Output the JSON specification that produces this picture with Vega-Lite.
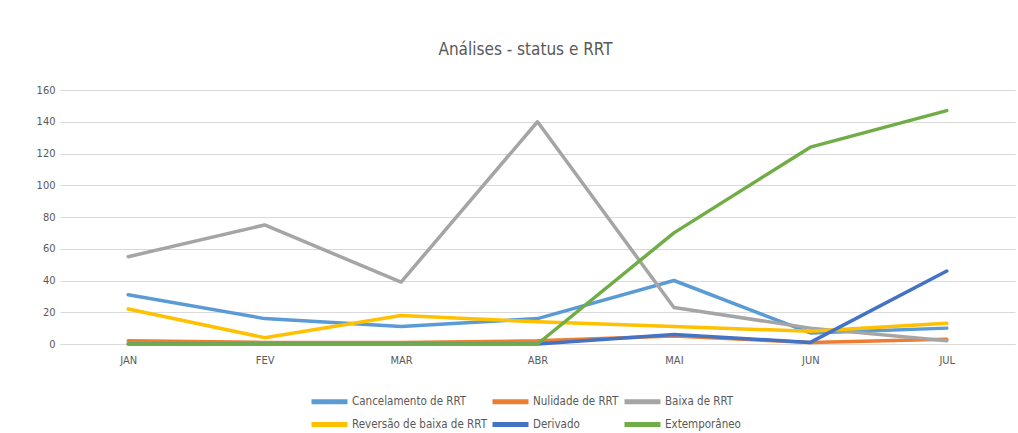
{
  "$schema": "https://vega.github.io/schema/vega-lite/v6.json",
  "width": 955,
  "height": 254,
  "autosize": {"type": "none"},
  "padding": {"left": 60, "top": 90, "right": 3, "bottom": 89},
  "background": "white",
  "title": {
    "text": "Análises - status e RRT",
    "fontSize": 17,
    "font": "DejaVu Sans Condensed, Liberation Sans, sans-serif",
    "fontWeight": "normal",
    "color": "#595959",
    "offset": 25,
    "dx": -12
  },
  "data": {
    "values": [
      {"mes": "JAN", "serie": "Cancelamento de RRT", "valor": 31},
      {"mes": "FEV", "serie": "Cancelamento de RRT", "valor": 16},
      {"mes": "MAR", "serie": "Cancelamento de RRT", "valor": 11},
      {"mes": "ABR", "serie": "Cancelamento de RRT", "valor": 16},
      {"mes": "MAI", "serie": "Cancelamento de RRT", "valor": 40},
      {"mes": "JUN", "serie": "Cancelamento de RRT", "valor": 7},
      {"mes": "JUL", "serie": "Cancelamento de RRT", "valor": 10},
      {"mes": "JAN", "serie": "Nulidade de RRT", "valor": 2},
      {"mes": "FEV", "serie": "Nulidade de RRT", "valor": 1},
      {"mes": "MAR", "serie": "Nulidade de RRT", "valor": 1},
      {"mes": "ABR", "serie": "Nulidade de RRT", "valor": 2},
      {"mes": "MAI", "serie": "Nulidade de RRT", "valor": 5},
      {"mes": "JUN", "serie": "Nulidade de RRT", "valor": 1},
      {"mes": "JUL", "serie": "Nulidade de RRT", "valor": 3},
      {"mes": "JAN", "serie": "Baixa de RRT", "valor": 55},
      {"mes": "FEV", "serie": "Baixa de RRT", "valor": 75},
      {"mes": "MAR", "serie": "Baixa de RRT", "valor": 39},
      {"mes": "ABR", "serie": "Baixa de RRT", "valor": 140},
      {"mes": "MAI", "serie": "Baixa de RRT", "valor": 23},
      {"mes": "JUN", "serie": "Baixa de RRT", "valor": 10},
      {"mes": "JUL", "serie": "Baixa de RRT", "valor": 2},
      {"mes": "JAN", "serie": "Reversão de baixa de RRT", "valor": 22},
      {"mes": "FEV", "serie": "Reversão de baixa de RRT", "valor": 4},
      {"mes": "MAR", "serie": "Reversão de baixa de RRT", "valor": 18},
      {"mes": "ABR", "serie": "Reversão de baixa de RRT", "valor": 14},
      {"mes": "MAI", "serie": "Reversão de baixa de RRT", "valor": 11},
      {"mes": "JUN", "serie": "Reversão de baixa de RRT", "valor": 8},
      {"mes": "JUL", "serie": "Reversão de baixa de RRT", "valor": 13},
      {"mes": "JAN", "serie": "Derivado", "valor": 0},
      {"mes": "FEV", "serie": "Derivado", "valor": 0},
      {"mes": "MAR", "serie": "Derivado", "valor": 0},
      {"mes": "ABR", "serie": "Derivado", "valor": 0},
      {"mes": "MAI", "serie": "Derivado", "valor": 6},
      {"mes": "JUN", "serie": "Derivado", "valor": 1},
      {"mes": "JUL", "serie": "Derivado", "valor": 46},
      {"mes": "JAN", "serie": "Extemporâneo", "valor": 0},
      {"mes": "FEV", "serie": "Extemporâneo", "valor": 0},
      {"mes": "MAR", "serie": "Extemporâneo", "valor": 0},
      {"mes": "ABR", "serie": "Extemporâneo", "valor": 0},
      {"mes": "MAI", "serie": "Extemporâneo", "valor": 70},
      {"mes": "JUN", "serie": "Extemporâneo", "valor": 124},
      {"mes": "JUL", "serie": "Extemporâneo", "valor": 147}
    ]
  },
  "mark": {"type": "line", "strokeWidth": 3.5, "strokeCap": "round", "strokeJoin": "round"},
  "encoding": {
    "x": {
      "field": "mes",
      "type": "ordinal",
      "sort": ["JAN", "FEV", "MAR", "ABR", "MAI", "JUN", "JUL"],
      "axis": {
        "title": null,
        "grid": false,
        "ticks": false,
        "domain": true,
        "domainColor": "#D9D9D9",
        "labelAngle": 0,
        "labelFont": "DejaVu Sans Condensed, Liberation Sans, sans-serif",
        "labelFontSize": 11,
        "labelColor": "#595959",
        "labelPadding": 10
      }
    },
    "y": {
      "field": "valor",
      "type": "quantitative",
      "scale": {"domain": [0, 160]},
      "axis": {
        "title": null,
        "values": [0, 20, 40, 60, 80, 100, 120, 140, 160],
        "domain": false,
        "ticks": false,
        "gridColor": "#D9D9D9",
        "gridWidth": 1,
        "labelFont": "DejaVu Sans Condensed, Liberation Sans, sans-serif",
        "labelFontSize": 11,
        "labelColor": "#595959",
        "labelPadding": 5
      }
    },
    "color": {
      "field": "serie",
      "type": "nominal",
      "sort": ["Cancelamento de RRT", "Nulidade de RRT", "Baixa de RRT", "Reversão de baixa de RRT", "Derivado", "Extemporâneo"],
      "scale": {
        "domain": ["Cancelamento de RRT", "Nulidade de RRT", "Baixa de RRT", "Reversão de baixa de RRT", "Derivado", "Extemporâneo"],
        "range": ["#5B9BD5", "#ED7D31", "#A5A5A5", "#FFC000", "#4472C4", "#70AD47"]
      },
      "legend": {
        "title": null,
        "orient": "none",
        "legendX": 249,
        "legendY": 303,
        "direction": "horizontal",
        "columns": 3,
        "gridAlign": "each",
        "columnPadding": -5,
        "rowPadding": 2,
        "symbolType": "M-1,0H5",
        "symbolSize": 144,
        "symbolStrokeWidth": 5,
        "symbolStrokeCap": "round",
        "labelFont": "DejaVu Sans Condensed, Liberation Sans, sans-serif",
        "labelFontSize": 11.5,
        "labelColor": "#595959",
        "labelOffset": 26
      }
    }
  },
  "config": {"view": {"stroke": null}}
}
